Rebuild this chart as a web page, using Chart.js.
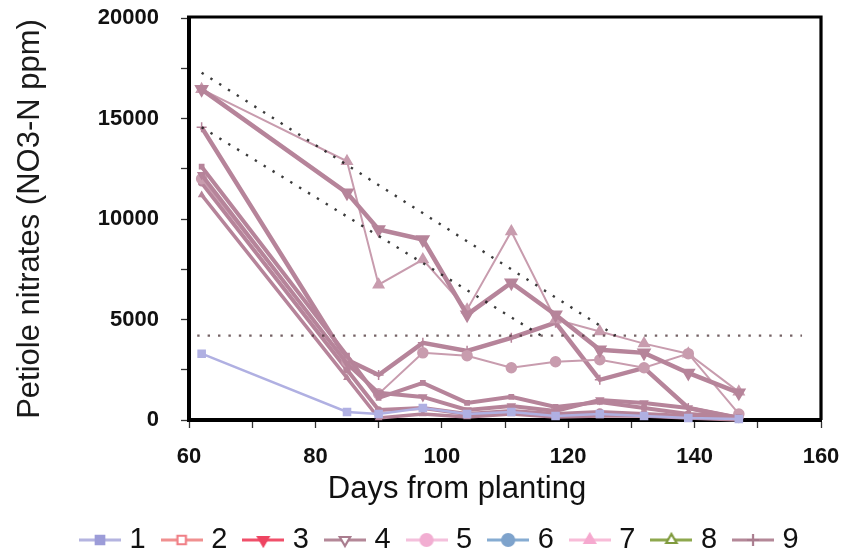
<!DOCTYPE html>
<html>
<head>
<meta charset="utf-8">
<script src="https://cdn.jsdelivr.net/npm/chart.js@4.4.0/dist/chart.umd.min.js"></script>
<style>
html,body{margin:0;padding:0;background:#fff;}
#wrap{width:844px;height:551px;position:relative;}
</style>
</head>
<body>
<div id="wrap"><canvas id="c" width="844" height="551"></canvas></div>
<script>
// ---------------- data ----------------
const days = [62, 85, 90, 97, 104, 111, 118, 125, 132, 139, 147];
const seriesNames = ['1', '2', '3', '4', '5', '6', '7', '8', '9'];
const s1 = [3300, 400, 300, 600, 300, 400, 200, 300, 200, 100, 50];
const s2 = [12600, 3200, 1100, 1850, 850, 1150, 650, 900, 600, 300, 150];
const s3 = [16450, 11300, 9480, 8980, 5240, 6830, 5240, 3490, 3340, 2340, 1350];
const s4 = [12200, 2800, 1350, 1150, 500, 700, 450, 1000, 850, 600, 100];
const s5 = [12000, 2900, 1300, 3340, 3200, 2600, 2900, 3000, 2600, 3300, 300];
const s6 = [11800, 2500, 500, 600, 300, 450, 300, 400, 300, 200, 50];
const s7 = [16450, 12870, 6730, 7980, 5490, 9380, 5000, 4400, 3800, 3300, 1400];
const s8 = [11200, 2100, 100, 300, 150, 300, 150, 200, 200, 100, 0];
const s9 = [14560, 3000, 2240, 3840, 3440, 4090, 4840, 2000, 2590, 600, 100];
const seriesValues = [s1, s2, s3, s4, s5, s6, s7, s8, s9];

// dotted reference lines
const upperLineDays = [62, 127.5];
const upperLineValues = [17280, 4200];
const lowerLineDays = [62, 115.7];
const lowerLineValues = [14560, 4200];
const plateauDays = [61.3, 157];
const plateauValues = [4200, 4200];

const xTickLabels = [60, 80, 100, 120, 140, 160];
const yTickLabels = [0, 5000, 10000, 15000, 20000];

// ---------------- styles ----------------
const FONT = '"Liberation Sans", Arial, Helvetica, sans-serif';
const MAUVE = '#b6849a';
const THIN = '#c89cae';
const lineStyles = [
  {color: '#b0b0e2', width: 2.5, ps: 'rect', r: 5, rot: 0},
  {color: MAUVE, width: 4, ps: 'rect', r: 3, rot: 0},
  {color: MAUVE, width: 4.5, ps: 'triangle', r: 7, rot: 180},
  {color: MAUVE, width: 4, ps: 'triangle', r: 4, rot: 180},
  {color: THIN, width: 2, ps: 'circle', r: 5, rot: 0},
  {color: MAUVE, width: 4, ps: 'circle', r: 3, rot: 0},
  {color: THIN, width: 2, ps: 'triangle', r: 6, rot: 0},
  {color: MAUVE, width: 3.5, ps: 'triangle', r: 3, rot: 0},
  {color: MAUVE, width: 4.5, ps: 'cross', r: 5, rot: 0}
];
const legendStyles = [
  {line: '#b4b4e0', mark: '#9c9cd8', ps: 'rect', rot: 0, open: false},
  {line: '#f09090', mark: '#f07f86', ps: 'rect', rot: 0, open: true},
  {line: '#f0506a', mark: '#ee4461', ps: 'triangle', rot: 180, open: false},
  {line: '#b48898', mark: '#a97c8e', ps: 'triangle', rot: 180, open: true},
  {line: '#f4c0dc', mark: '#f2aed2', ps: 'circle', rot: 0, open: false},
  {line: '#86acd2', mark: '#7ea3cc', ps: 'circle', rot: 0, open: false},
  {line: '#f8bcd8', mark: '#f6a9cf', ps: 'triangle', rot: 0, open: false},
  {line: '#8ea84e', mark: '#7f9a3c', ps: 'triangle', rot: 0, open: true},
  {line: '#b48898', mark: '#a97c8e', ps: 'cross', rot: 0, open: false}
];

function pts(xs, ys) { return xs.map((d, i) => ({x: d, y: ys[i]})); }

function makeSample(st) {
  const c = document.createElement('canvas');
  c.width = 42; c.height = 18;
  const g = c.getContext('2d');
  g.strokeStyle = st.line; g.lineWidth = 3;
  g.beginPath(); g.moveTo(0, 9); g.lineTo(42, 9); g.stroke();
  g.fillStyle = st.open ? '#ffffff' : st.mark;
  g.strokeStyle = st.mark;
  g.lineWidth = 2.2;
  Chart.helpers.drawPoint(g, {pointStyle: st.ps, radius: 6, rotation: st.rot, borderWidth: 2.2}, 21, 9);
  return c;
}
const samples = legendStyles.map(makeSample);

const datasets = [];
seriesValues.forEach((vals, i) => {
  const st = lineStyles[i];
  datasets.push({
    label: seriesNames[i],
    data: pts(days, vals),
    borderColor: st.color,
    backgroundColor: st.color,
    borderWidth: st.width,
    pointStyle: st.ps,
    pointRadius: st.r,
    pointRotation: st.rot,
    pointBackgroundColor: st.color,
    pointBorderColor: st.color,
    pointBorderWidth: 1.5,
    tension: 0,
    fill: false,
    clip: 8,
    order: 2
  });
});
[[upperLineDays, upperLineValues], [lowerLineDays, lowerLineValues], [plateauDays, plateauValues]].forEach((p, k) => {
  datasets.push({
    label: 'ref' + k,
    data: pts(p[0], p[1]),
    borderColor: k === 2 ? 'rgba(70,45,50,0.75)' : 'rgba(25,25,25,0.85)',
    borderWidth: 2.4,
    borderDash: [2.4, 8],
    pointRadius: 0,
    tension: 0,
    fill: false,
    order: 1
  });
});

// target layout (pixels in the 844x551 picture)
const AREA_LEFT = 189, AREA_RIGHT = 821, AREA_TOP = 18, AREA_BOTTOM = 420, LEGEND_X0 = 85, YTITLE_X = 30;
let PAD_L = 66;
const PAD_B = -13.5;

const framePlugin = {
  id: 'frame',
  afterDraw(chart) {
    const {ctx, chartArea: a} = chart;
    ctx.save();
    ctx.strokeStyle = '#000';
    ctx.lineWidth = 3.2;
    ctx.beginPath();
    ctx.moveTo(a.left - 2, a.top - 1);
    ctx.lineTo(a.right, a.top - 1);
    ctx.lineTo(a.right, a.bottom);
    ctx.stroke();
    // x-axis title
    ctx.fillStyle = '#111';
    ctx.font = '31px ' + FONT;
    ctx.textAlign = 'center';
    ctx.textBaseline = 'middle';
    ctx.fillText('Days from planting', 457, 489);
    ctx.restore();
  }
};

const chart = new Chart(document.getElementById('c'), {
  type: 'line',
  data: {datasets},
  plugins: [framePlugin],
  options: {
    responsive: false,
    animation: false,
    devicePixelRatio: 1,
    layout: {padding: {left: PAD_L, right: 23, top: 18, bottom: PAD_B}, autoPadding: false},
    plugins: {
      tooltip: {enabled: false},
      legend: {
        position: 'bottom',
        align: 'center',
        labels: {
          usePointStyle: true,
          pointStyleWidth: 30,
          padding: 21,
          color: '#111',
          font: {family: FONT, size: 29},
          generateLabels: () => seriesNames.map((n, i) => ({
            text: n,
            pointStyle: samples[i],
            fillStyle: legendStyles[i].mark,
            strokeStyle: legendStyles[i].mark,
            lineWidth: 0,
            hidden: false,
            datasetIndex: i,
            fontColor: '#111'
          }))
        }
      }
    },
    scales: {
      x: {
        type: 'linear', min: 60, max: 160,
        afterFit(scale) {
          const lg = scale.chart.legend;
          const lh = lg ? lg.height : 0;
          scale.height = 551 - PAD_B - lh - AREA_BOTTOM;
        },
        ticks: {
          stepSize: 10, autoSkip: false, maxRotation: 0, padding: 4,
          callback: v => xTickLabels.includes(v) ? String(v) : '',
          font: {family: FONT, size: 22, weight: 'bold'}, color: '#111'
        },
        grid: {drawOnChartArea: false, drawTicks: true, tickLength: 20, tickColor: '#333', tickWidth: 1.3,
               tickBorderDash: [6, 60], tickBorderDashOffset: 0},
        border: {display: true, color: '#000', width: 4}
      },
      y: {
        type: 'linear', min: 0, max: 20000,
        afterFit(scale) { scale.width = AREA_LEFT - PAD_L; },
        ticks: {
          stepSize: 2500, autoSkip: false, padding: 2,
          callback: v => yTickLabels.includes(v) ? String(v) : '',
          font: {family: FONT, size: 22, weight: 'bold'}, color: '#111'
        },
        grid: {drawOnChartArea: false, drawTicks: true, tickLength: 28, tickColor: '#333', tickWidth: 1.3,
               tickBorderDash: [6, 60], tickBorderDashOffset: 46},
        border: {display: true, color: '#000', width: 4},
        title: {
          display: true,
          text: 'Petiole nitrates (NO3-N ppm)',
          color: '#1a1a1a',
          font: {family: FONT, size: 31},
          padding: {top: YTITLE_X - 18.6 - PAD_L, bottom: 0}
        }
      }
    }
  }
});

// settle the layout so the plot area and legend land where the picture has them
for (let k = 0; k < 12; k++) {
  const a = chart.chartArea;
  const pad = chart.options.layout.padding;
  const hb = chart.legend && chart.legend.legendHitBoxes && chart.legend.legendHitBoxes[0];
  const dt = AREA_TOP - a.top;
  const dr = a.right - AREA_RIGHT;
  const dl = hb ? LEGEND_X0 - hb.left : 0;
  if (Math.abs(dt) < 0.25 && Math.abs(dr) < 0.25 && Math.abs(dl) < 0.25) break;
  PAD_L += 2 * dl;
  chart.options.layout.padding = {left: PAD_L, right: pad.right + dr, top: pad.top + dt, bottom: PAD_B};
  chart.options.scales.y.title.padding = {top: YTITLE_X - 18.6 - PAD_L, bottom: 0};
  chart.update();
}
</script>
</body>
</html>
